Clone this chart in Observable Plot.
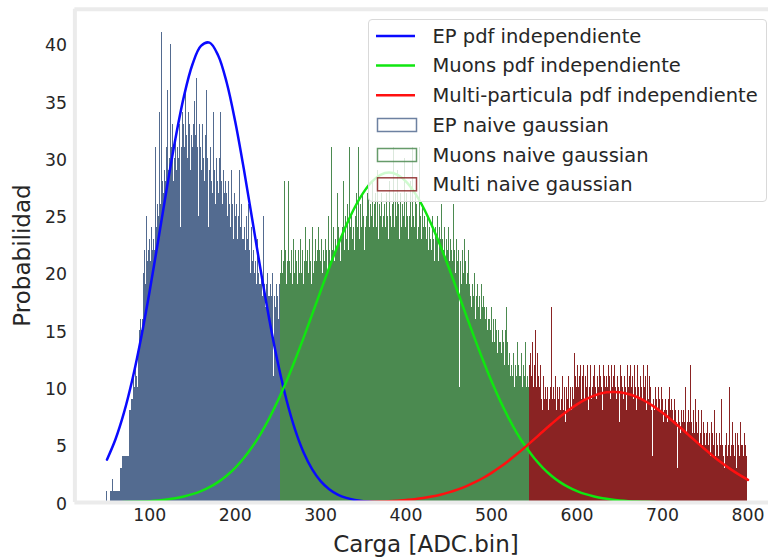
<!DOCTYPE html>
<html>
<head>
<meta charset="utf-8">
<script src="https://cdn.jsdelivr.net/npm/d3@7"></script>
<script src="https://cdn.jsdelivr.net/npm/@observablehq/plot@0.6"></script>
<style>
  body { margin: 0; background: #fff; }
  #wrap { position: relative; width: 768px; height: 558px; font-family: "DejaVu Sans", sans-serif; color: #262626; }
  #legend { position: absolute; left: 368px; top: 19px; width: 399px; height: 183px; box-sizing: border-box;
            border: 1px solid #d9d9d9; border-radius: 4px; background: rgba(255,255,255,0.8); }
  #legend svg { position: absolute; left: 0; top: 0; }
</style>
</head>
<body>
<div id="wrap"><div id="legend"></div></div>
<script>
// ---- tick labels ----
const xTicks = [100, 200, 300, 400, 500, 600, 700, 800];
const yTicks = [0, 5, 10, 15, 20, 25, 30, 35, 40];

// ---- histogram counts (bin width 1 ADC), first bin edge given by *Start ----
const epStart = 50;
const epCounts = [
  1,0,0,0,1,1,0,2,1,1,
  1,1,1,1,1,1,3,3,4,4,
  4,4,4,4,4,4,8,9,8,9,
  9,11,10,12,15,11,10,13,15,16,
  17,15,16,20,22,19,25,29,21,22,
  23,21,24,22,25,23,22,31,24,26,
  25,27,34,26,41,28,27,29,30,28,
  31,36,29,30,40,32,31,33,28,30,
  32,29,35,31,30,33,24,31,34,32,
  33,31,36,32,30,34,37,33,29,32,
  31,33,30,35,32,37,31,25,33,30,
  31,29,33,30,28,32,27,36,30,24,
  29,31,28,30,27,34,29,26,30,28,
  29,27,30,34,28,26,29,31,27,28,
  27,25,28,26,30,24,29,26,23,27,
  25,24,26,23,25,29,24,22,26,23,
  23,24,22,25,21,23,26,22,20,24,
  21,27,22,20,21,19,23,20,22,19,
  19,20,18,25,19,21,17,19,20,18,
  18,19,17,18,20,11,18,17,19,25,
  18,16,19
];

const muonStart = 253;
const muonCounts = [
  20,
  22,20,23,21,28,22,19,21,28,23,
  21,20,22,19,23,21,20,22,21,19,
  22,20,21,23,20,22,19,21,24,20,
  21,22,20,23,21,19,22,24,20,21,
  23,21,22,20,24,22,21,23,20,22,
  24,21,23,22,20,25,22,23,21,31,
  22,24,21,23,25,22,27,24,23,21,
  25,23,24,28,22,25,23,24,26,22,
  31,24,25,23,26,24,22,25,27,24,
  31,25,23,26,24,27,25,22,26,24,
  25,27,30,24,26,23,25,28,24,26,
  27,24,25,29,23,26,25,27,24,30,
  25,26,24,27,25,23,26,28,25,24,
  26,31,25,24,27,25,29,26,23,25,
  27,24,26,25,30,24,26,27,25,23,
  25,28,24,26,31,25,24,27,26,23,
  26,24,31,25,23,26,24,27,25,24,
  23,25,22,24,26,23,22,25,23,21,
  24,22,23,25,21,24,23,22,26,23,
  22,24,21,23,25,22,24,21,23,22,
  21,23,26,22,20,23,21,22,20,10,
  21,19,22,20,23,18,21,19,20,22,
  19,18,21,17,19,18,20,16,18,17,
  19,17,18,16,19,17,15,18,17,16,
  17,15,16,18,16,15,17,14,16,15,
  14,16,15,13,15,14,16,14,13,15,
  14,12,15,13,17,14,12,13,11,12,
  12,11,13,10,12,11,14,10,12,11,
  11,13,10,12,10,11,14,10,11,10
];

const multiStart = 544;
const multiCounts = [
  12,10,13,11,14,10,12,15,11,10,
  13,11,10,12,9,10,8,11,9,10,
  9,11,10,8,9,10,17,9,8,10,
  9,11,8,10,9,4,10,8,9,11,
  8,10,9,7,10,9,11,8,10,9,
  8,10,9,13,11,10,4,12,10,11,
  12,9,11,10,12,9,11,10,12,8,
  11,10,12,9,10,11,8,12,10,9,
  11,10,12,9,11,10,8,12,11,10,
  9,11,10,12,11,9,12,13,10,11,
  12,10,9,11,13,10,7,12,11,10,
  9,12,11,10,8,12,10,11,9,12,
  10,11,9,12,10,11,8,12,10,9,
  11,10,13,9,12,10,11,8,10,12,
  9,11,10,8,4,10,9,8,10,9,
  8,10,7,9,8,10,9,7,8,10,
  9,8,7,9,10,8,7,9,8,7,
  9,8,7,14,3,8,7,6,8,7,
  6,8,7,10,6,7,8,6,7,12,
  7,6,8,7,6,9,7,6,8,5,
  7,6,8,5,7,6,5,10,6,7,
  5,6,4,7,5,6,5,8,4,6,
  5,7,4,6,5,9,5,4,6,3,
  5,6,4,5,10,6,4,5,7,5,
  4,6,5,3,6,5,4,7,5,6,
  5,4,6,5,4,6
];

// ---- pdf curves, sampled every 10 ADC ----
const pdfX = [50,60,70,80,90,100,110,120,130,140,150,160,170,180,190,200,210,220,230,240,
  250,260,270,280,290,300,310,320,330,340,350,360,370,380,390,400,410,420,430,440,
  450,460,470,480,490,500,510,520,530,540,550,560,570,580,590,600,610,620,630,640,
  650,660,670,680,690,700,710,720,730,740,750,760,770,780,790,800];
const epPdf = [3.74,5.52,7.86,10.82,14.38,18.46,22.89,27.41,31.71,35.43,38.23,39.86,40.14,39.04,36.68,33.28,29.17,24.70,20.20,15.96,
  12.17,8.97,6.39,4.39,2.92,1.87,1.16,0.69,0.40,0.22,0.12,0.06,0.03,0.01,0.01,0,0,0,0,0,
  0,0,0,0,0,0,0,0,0,0,0,0,0,0,0,0,0,0,0,0,
  0,0,0,0,0,0,0,0,0,0,0,0,0,0,0,0];
const muonPdf = [0.02,0.02,0.04,0.06,0.08,0.12,0.18,0.26,0.37,0.53,0.73,1.00,1.34,1.78,2.34,3.03,3.86,4.86,6.02,7.37,
  8.89,10.58,12.42,14.37,16.40,18.46,20.49,22.42,24.20,25.77,27.05,28.01,28.60,28.80,28.60,28.01,27.05,25.77,24.20,22.42,
  20.49,18.46,16.40,14.37,12.42,10.58,8.89,7.37,6.02,4.86,3.86,3.03,2.34,1.78,1.34,1.00,0.73,0.53,0.37,0.26,
  0.18,0.12,0.08,0.06,0.04,0.02,0.02,0.01,0.01,0,0,0,0,0,0,0];
const multiPdf = [0,0,0,0,0,0,0,0,0,0,0,0,0,0,0,0,0,0,0,0,
  0,0,0,0,0,0.01,0.01,0.01,0.02,0.03,0.04,0.06,0.08,0.11,0.16,0.22,0.29,0.39,0.52,0.68,
  0.88,1.12,1.41,1.75,2.14,2.59,3.09,3.65,4.25,4.88,5.53,6.20,6.85,7.48,8.06,8.57,9.00,9.33,9.55,9.64,
  9.62,9.47,9.21,8.84,8.37,7.83,7.23,6.59,5.93,5.27,4.62,4.00,3.42,2.89,2.41,1.98];

const legendLabels = ["EP pdf independiente", "Muons pdf independiente", "Multi-particula pdf independiente",
  "EP naive gaussian", "Muons naive gaussian", "Multi naive gaussian"];

// ---- styles ----
const epColor = "#536b90", muonColor = "#4b8a50", multiColor = "#8a2323";
const epLine = "#0a0aff", muonLine = "#10e610", multiLine = "#ff1010";
const spine = "#ebebeb";

function steps(start, counts) {
  const d = counts.map((c, i) => ({x: start + i, y: c}));
  d.push({x: start + counts.length, y: counts[counts.length - 1]});
  return d;
}
function curve(ys) { return pdfX.map((x, i) => ({x, y: ys[i]})); }

const chart = Plot.plot({
  width: 768, height: 558,
  marginLeft: 74.4, marginRight: 0, marginTop: 8.8, marginBottom: 56,
  x: {domain: [12.5, 824]},
  y: {domain: [0, 43.05]},
  style: {fontFamily: "DejaVu Sans, sans-serif", fontSize: "17.3px", color: "#262626", background: "white"},
  marks: [
    Plot.areaY(steps(epStart, epCounts), {x: "x", y: "y", curve: "step-after", fill: epColor, shapeRendering: "crispEdges"}),
    Plot.areaY(steps(muonStart, muonCounts), {x: "x", y: "y", curve: "step-after", fill: muonColor, shapeRendering: "crispEdges"}),
    Plot.areaY(steps(multiStart, multiCounts), {x: "x", y: "y", curve: "step-after", fill: multiColor, shapeRendering: "crispEdges"}),
    Plot.line(curve(epPdf), {x: "x", y: "y", stroke: epLine, strokeWidth: 2.5, curve: "catmull-rom"}),
    Plot.line(curve(muonPdf), {x: "x", y: "y", stroke: muonLine, strokeWidth: 2.5, curve: "catmull-rom"}),
    Plot.line(curve(multiPdf), {x: "x", y: "y", stroke: multiLine, strokeWidth: 2.5, curve: "catmull-rom"}),
    Plot.ruleX([12.5], {stroke: spine, strokeWidth: 4}),
    Plot.ruleY([0], {stroke: spine, strokeWidth: 4}),
    Plot.ruleY([43.05], {stroke: spine, strokeWidth: 4}),
    Plot.axisX(xTicks, {tickSize: 0, tickPadding: 6, label: null, fontSize: 17.3}),
    Plot.axisY(yTicks, {tickSize: 0, tickPadding: 8, label: null, fontSize: 17.3, dy: 1.5})
  ]
});

const svg = d3.select(chart);
svg.append("text").attr("x", 426).attr("y", 551.7).attr("text-anchor", "middle")
  .attr("font-family", "DejaVu Sans, sans-serif").attr("font-size", 23).attr("fill", "#262626")
  .text("Carga [ADC.bin]");
svg.append("text").attr("transform", "translate(30,255.5) rotate(-90)").attr("text-anchor", "middle")
  .attr("font-family", "DejaVu Sans, sans-serif").attr("font-size", 23).attr("fill", "#262626")
  .text("Probabilidad");

const wrap = document.getElementById("wrap");
wrap.insertBefore(chart, wrap.firstChild);

// ---- legend ----
const rows = [16, 45.5, 75.3, 105, 135, 164.3];
const lg = d3.select("#legend").append("svg").attr("width", 397).attr("height", 181);
const lineCols = [epLine, muonLine, multiLine];
const patchCols = [epColor, muonColor, multiColor];
lineCols.forEach((c, i) => {
  lg.append("line").attr("x1", 7).attr("x2", 46).attr("y1", rows[i]).attr("y2", rows[i])
    .attr("stroke", c).attr("stroke-width", 2.5);
});
patchCols.forEach((c, i) => {
  lg.append("rect").attr("x", 8.5).attr("y", rows[i + 3] - 6.5).attr("width", 39).attr("height", 13)
    .attr("fill", "none").attr("stroke", c).attr("stroke-opacity", 0.85).attr("stroke-width", 1.5);
});
legendLabels.forEach((t, i) => {
  lg.append("text").attr("x", 63.5).attr("y", rows[i] + 6.8)
    .attr("font-family", "DejaVu Sans, sans-serif").attr("font-size", 19.5).attr("fill", "#262626").text(t);
});
</script>
</body>
</html>
